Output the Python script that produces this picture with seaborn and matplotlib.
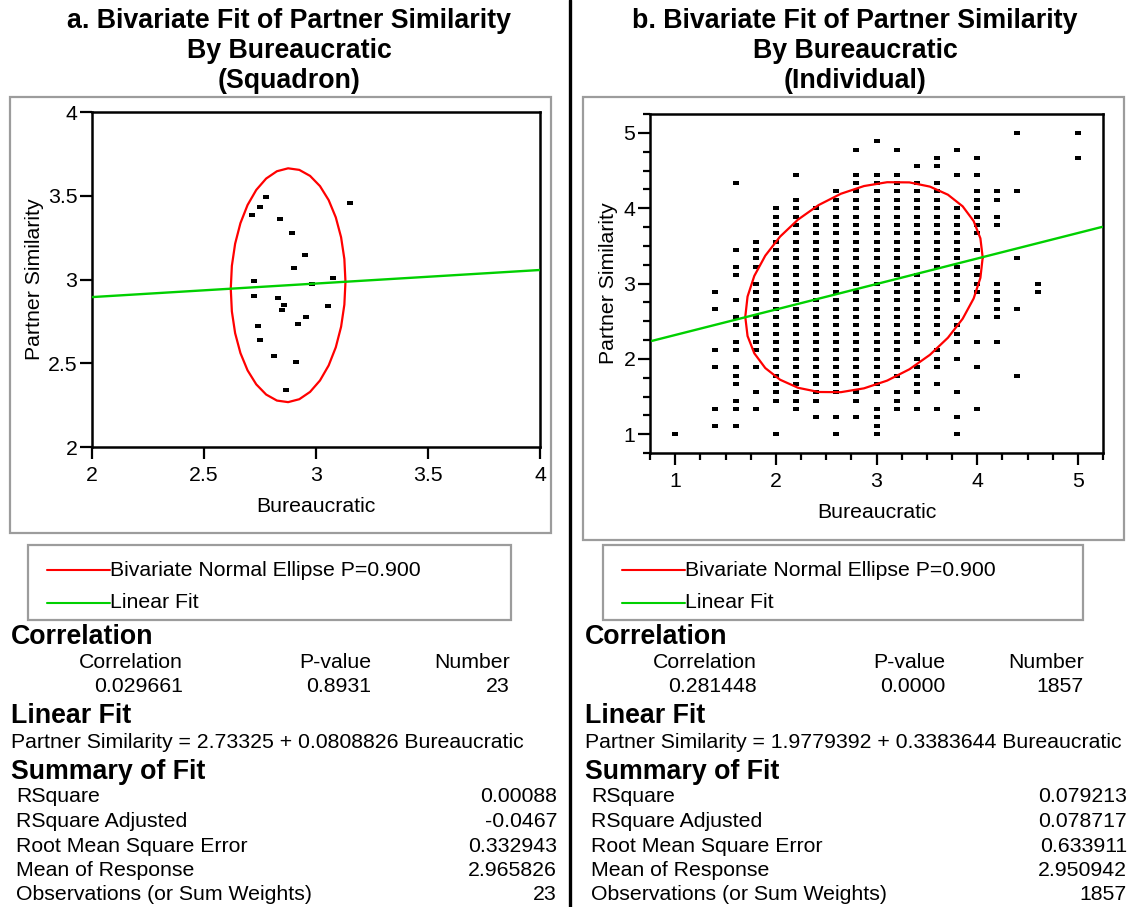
"""
Bivariate fit of Partner Similarity by Bureaucratic
- a. squadron level, b. individual level
- JMP style report: scatter, 90% normal ellipse, linear fit, summary tables
"""

import numpy as np
import matplotlib
matplotlib.use("Agg")
import matplotlib.pyplot as plt
import seaborn as sns
from matplotlib.patches import Rectangle
from matplotlib.lines import Line2D

# ---- panel a: squadron means (23 squadrons)
sq_x = [2.776, 2.750, 2.714, 2.839, 2.893, 2.951, 3.152, 2.902, 2.723, 3.076,
        2.982, 2.723, 2.830, 2.857, 2.848, 3.054, 2.955, 2.920, 2.741, 2.750,
        2.812, 2.911, 2.866]
sq_y = [3.495, 3.435, 3.388, 3.364, 3.280, 3.149, 3.459, 3.066, 2.994, 3.006,
        2.974, 2.899, 2.887, 2.847, 2.815, 2.839, 2.779, 2.732, 2.720, 2.636,
        2.541, 2.505, 2.338]

# ---- panel b: individuals, distinct (Bureaucratic, Partner Similarity) cells
# Partner Similarity is a 1..5 scale scored in ninths: y = 1 + k/9
ind_x = [1.0, 1.4, 1.6, 1.8, 2.0, 2.2, 2.4, 2.6, 2.8, 3.0,
         3.2, 3.4, 3.6, 3.8, 4.0, 4.2, 4.4, 4.6, 5.0]
ind_ninths = [
    [0],
    [17, 15, 10, 8, 3, 1],
    [30, 22, 20, 19, 16, 14, 13, 11, 10, 8, 7, 6, 4, 3, 1],
    [23, 22, 21, 20, 18, 17, 16, 15, 14, 13, 12, 11, 10, 8, 5, 3],
    [27, 26, 25, 24, 23, 22, 21, 20, 19, 18, 17, 16, 15, 14, 13, 12, 11, 10,
     9, 8, 7, 6, 5, 4, 0],
    [31, 28, 27, 26, 25, 24, 23, 22, 21, 20, 19, 18, 17, 16, 15, 14, 13, 12,
     11, 10, 9, 8, 7, 6, 5, 4, 3],
    [27, 26, 25, 24, 23, 22, 21, 20, 19, 18, 17, 16, 15, 14, 13, 12, 11, 10,
     9, 8, 7, 6, 5, 4, 2],
    [29, 28, 27, 26, 25, 24, 23, 22, 21, 20, 19, 18, 17, 16, 15, 14, 13, 12,
     11, 10, 9, 8, 7, 6, 5, 2, 0],
    [34, 31, 30, 29, 28, 27, 26, 25, 24, 23, 22, 21, 20, 19, 18, 17, 16, 15,
     14, 13, 12, 11, 10, 9, 8, 7, 6, 5, 4, 2],
    [35, 31, 30, 29, 28, 27, 26, 25, 24, 23, 22, 21, 20, 19, 18, 17, 16, 15,
     14, 13, 12, 11, 10, 9, 8, 7, 6, 5, 3, 2, 1, 0],
    [34, 31, 30, 29, 28, 27, 26, 25, 24, 23, 22, 21, 20, 19, 18, 17, 16, 15,
     14, 13, 12, 11, 10, 9, 8, 7, 5, 4, 3],
    [32, 30, 29, 28, 27, 26, 25, 24, 23, 22, 21, 20, 19, 18, 17, 16, 15, 14,
     13, 12, 11, 9, 8, 7, 6, 5, 3],
    [33, 32, 30, 29, 28, 27, 26, 25, 24, 23, 22, 21, 20, 19, 18, 17, 16, 15,
     14, 13, 12, 10, 9, 8, 6, 3],
    [34, 31, 27, 26, 25, 24, 23, 22, 21, 20, 19, 18, 17, 16, 14, 13, 12, 11,
     9, 5, 2, 0],
    [33, 31, 29, 28, 27, 26, 25, 24, 22, 20, 19, 18, 17, 14, 11, 8, 3],
    [29, 28, 26, 25, 18, 17, 16, 15, 14, 11],
    [36, 29, 21, 15, 7],
    [18, 17],
    [36, 33],
]

# ---- fitted values shown in the report
sq_fit = [2.73325, 0.0808826]          # intercept, slope
ind_fit = [1.9779392, 0.3383644]
# ellipse moments: mean x, mean y, sd x, sd y, correlation
sq_moments = [2.8755, 2.965826, 0.1193, 0.3254, 0.029661]
ind_moments = [2.8756, 2.950942, 0.5495, 0.652, 0.281448]
ellipse_p = 0.900

corr_headers = ["Correlation", "P-value", "Number"]
sq_corr_row = ["0.029661", "0.8931", "23"]
ind_corr_row = ["0.281448", "0.0000", "1857"]
fit_labels = ["RSquare", "RSquare Adjusted", "Root Mean Square Error",
              "Mean of Response", "Observations (or Sum Weights)"]
sq_fit_vals = ["0.00088", "-0.0467", "0.332943", "2.965826", "23"]
ind_fit_vals = ["0.079213", "0.078717", "0.633911", "2.950942", "1857"]

W, H = 1132, 907
REG, BIG = 15.3, 19.3
RED, GREEN, FRAME = "#ff0000", "#00d000", "#9c9c9c"

sns.set_theme(style="white")
plt.rcParams["font.family"] = ["Liberation Sans", "DejaVu Sans"]

fig = plt.figure(figsize=(W / 100, H / 100), dpi=100)


def fx(px):
    return px / W


def fy(py):
    return 1 - py / H


def put(x, y, s, size=REG, bold=False, ha="left"):
    fig.text(fx(x), fy(y), s, fontsize=size, ha=ha, va="center",
             fontweight="bold" if bold else "normal", color="black")


def box(x0, y0, x1, y1, color=FRAME, lw=1.6):
    fig.add_artist(Rectangle((fx(x0), fy(y1)), fx(x1) - fx(x0), fy(y0) - fy(y1),
                             transform=fig.transFigure, fill=False,
                             edgecolor=color, linewidth=lw))


def hline(x0, x1, y, color, lw=1.5):
    fig.add_artist(Line2D([fx(x0), fx(x1)], [fy(y), fy(y)], color=color,
                          linewidth=lw, transform=fig.transFigure))


def ellipse(moments, p, n=33):
    mx, my, sx, sy, r = moments
    cov = np.array([[sx * sx, r * sx * sy], [r * sx * sy, sy * sy]])
    L = np.linalg.cholesky(cov)
    c = np.sqrt(-2 * np.log(1 - p))
    t = np.linspace(0, 2 * np.pi, n)
    pts = c * L @ np.vstack([np.cos(t), np.sin(t)])
    return pts[0] + mx, pts[1] + my


rect_marker = [(-1, -0.6), (1, -0.6), (1, 0.6), (-1, 0.6)]


def make_axes(l, t, r, b):
    ax = fig.add_axes([fx(l), fy(b), fx(r) - fx(l), fy(t) - fy(b)])
    ax.set_facecolor("white")
    for sp in ax.spines.values():
        sp.set_visible(True)
        sp.set_color("black")
        sp.set_linewidth(1.8)
    ax.tick_params(which="major", direction="out", length=8.5, width=1.6,
                   color="black", labelsize=REG, labelcolor="black")
    ax.tick_params(which="minor", direction="out", length=5, width=1.6,
                   color="black")
    ax.tick_params(axis="x", which="both", bottom=True, pad=5)
    ax.tick_params(axis="y", which="both", left=True, pad=2)
    ax.grid(False)
    return ax


def draw_panel(ax, xs, ys, fit, moments, xlim, ylim):
    sns.scatterplot(x=xs, y=ys, ax=ax, marker=rect_marker, s=14,
                    color="black", linewidth=0, legend=False, zorder=3)
    ex, ey = ellipse(moments, ellipse_p)
    ax.plot(ex, ey, color=RED, linewidth=1.6, zorder=4)
    lx = np.array(xlim)
    sns.lineplot(x=lx, y=fit[0] + fit[1] * lx, ax=ax, color=GREEN,
                 linewidth=1.7, zorder=4)
    ax.set_xlim(xlim)
    ax.set_ylim(ylim)
    ax.set_xlabel("Bureaucratic", fontsize=REG, color="black")
    ax.set_ylabel("Partner Similarity", fontsize=REG, color="black")
    ax.xaxis.label.set_va("center")
    ax.yaxis.label.set_va("center")


# ---- panel a
ax_a = make_axes(92, 112, 540, 447)
draw_panel(ax_a, sq_x, sq_y, sq_fit, sq_moments, (2, 4), (2, 4))
ax_a.set_xticks([2, 2.5, 3, 3.5, 4])
ax_a.set_yticks([2, 2.5, 3, 3.5, 4])
ax_a.set_xticklabels(["2", "2.5", "3", "3.5", "4"])
ax_a.set_yticklabels(["2", "2.5", "3", "3.5", "4"])
ax_a.xaxis.set_label_coords(0.5, (447 - 507) / 335)
ax_a.yaxis.set_label_coords((35 - 92) / 448, 0.5)

# ---- panel b
bx, by = [], []
for x, ks in zip(ind_x, ind_ninths):
    for k in ks:
        bx.append(x)
        by.append(1 + k / 9)
ax_b = make_axes(650, 114, 1103, 453)
draw_panel(ax_b, bx, by, ind_fit, ind_moments, (0.77, 5.24), (0.75, 5.22))
ax_b.set_xticks([1, 2, 3, 4, 5])
ax_b.set_yticks([1, 2, 3, 4, 5])
ax_b.set_xticks(np.arange(0.75, 5.3, 0.25), minor=True)
ax_b.set_yticks(np.arange(0.75, 5.3, 0.25), minor=True)
ax_b.xaxis.set_label_coords(0.5, (453 - 513) / 339)
ax_b.yaxis.set_label_coords((608 - 650) / 453, 0.5)

# ---- titles
put(289, 21, "a. Bivariate Fit of Partner Similarity", BIG, True, "center")
put(289, 51, "By Bureaucratic", BIG, True, "center")
put(289, 81, "(Squadron)", BIG, True, "center")
put(855, 21, "b. Bivariate Fit of Partner Similarity", BIG, True, "center")
put(855, 51, "By Bureaucratic", BIG, True, "center")
put(855, 81, "(Individual)", BIG, True, "center")

# ---- frames, divider
box(10, 97, 551, 533)
box(583, 97, 1124, 540)
fig.add_artist(Line2D([fx(570), fx(570)], [0, 1], color="black", linewidth=2.4,
                      transform=fig.transFigure))

# ---- legends
for x0, x1, lx0, lx1 in [(28, 511, 47, 110), (603, 1083, 622, 685)]:
    box(x0, 545, x1, 620)
    hline(lx0, lx1, 570, RED)
    hline(lx0, lx1, 603, GREEN)
    put(lx1, 571, "Bivariate Normal Ellipse P=%.3f" % ellipse_p)
    put(lx1, 603, "Linear Fit")

# ---- report tables
panels = [
    (11, 16, 557, [183, 371, 510], sq_corr_row, sq_fit, sq_fit_vals),
    (585, 591, 1127, [757, 945, 1084], ind_corr_row, ind_fit, ind_fit_vals),
]
for x0, xl, xr, cols, corr_row, fit, vals in panels:
    put(x0, 637, "Correlation", BIG, True)
    for c, head, val in zip(cols, corr_headers, corr_row):
        put(c, 663, head, ha="right")
        put(c, 687, val, ha="right")
    put(x0, 716, "Linear Fit", BIG, True)
    put(x0, 743, "Partner Similarity = %s + %s Bureaucratic" % (fit[0], fit[1]))
    put(x0, 772, "Summary of Fit", BIG, True)
    for i, (lab, val) in enumerate(zip(fit_labels, vals)):
        y = 797 + i * 24.5
        put(xl, y, lab)
        put(xr, y, val, ha="right")

fig.savefig("out.png", dpi=100, facecolor="white")
